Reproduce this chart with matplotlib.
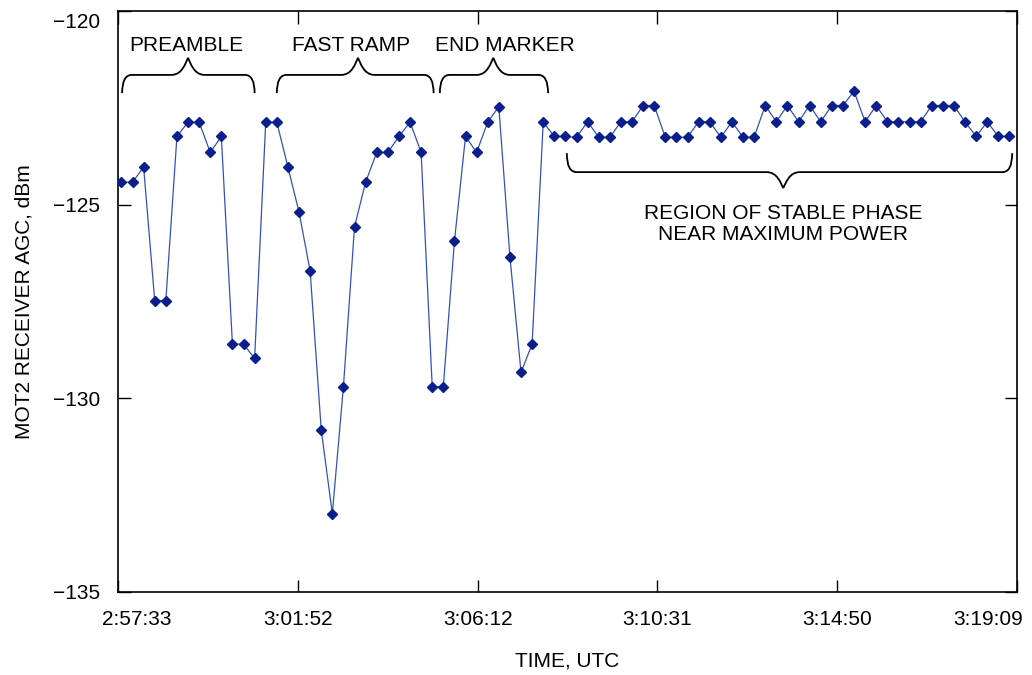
import numpy as np
import matplotlib as mpl
mpl.use("Agg")
import matplotlib.pyplot as plt
import matplotlib.transforms as mtransforms
from matplotlib.path import Path
from matplotlib.patches import PathPatch

plt.rcParams['font.family'] = ['Liberation Sans', 'DejaVu Sans']

# time axis: seconds since 00:00 UTC
t_start = 10653                        # 2:57:33
t_end = 11949                          # 3:19:09
tick_labels = ["2:57:33", "3:01:52", "3:06:12", "3:10:31", "3:14:50", "3:19:09"]
first_sample = 10658                   # 2:57:38
sample_step = 16                       # s between AGC samples

agc = [-124.42, -124.42, -124.03, -127.48, -127.48, -123.24, -122.87, -122.87, -123.65, -123.24,
       -128.60, -128.60, -128.97, -122.87, -122.87, -124.03, -125.19, -126.71, -130.81, -132.98,
       -129.70, -125.57, -124.42, -123.65, -123.65, -123.24, -122.87, -123.65, -129.70, -129.70,
       -125.95, -123.24, -123.65, -122.87, -122.47, -126.34, -129.33, -128.60, -122.87, -123.24,
       -123.24, -123.26, -122.86, -123.26, -123.26, -122.86, -122.86, -122.44, -122.44, -123.26,
       -123.26, -123.26, -122.86, -122.86, -123.26, -122.86, -123.26, -123.26, -122.44, -122.86,
       -122.44, -122.86, -122.44, -122.86, -122.44, -122.44, -122.07, -122.86, -122.44, -122.86,
       -122.86, -122.86, -122.86, -122.44, -122.44, -122.44, -122.86, -123.24, -122.86, -123.24,
       -123.24]
times = first_sample + sample_step * np.arange(len(agc))


def brace(ax, x0, x1, xm, y_end, y_bar, y_tip, r=14, w=24):
    """curly brace: ends at y_end, bar at y_bar, point at y_tip (data coords)"""
    verts = [(x0, y_end), (x0, y_bar), (x0 + r, y_bar),
             (xm - w, y_bar),
             (xm - w * 0.35, y_bar), (xm - w * 0.15, y_tip + (y_bar - y_tip) * 0.3), (xm, y_tip),
             (xm + w * 0.15, y_tip + (y_bar - y_tip) * 0.3), (xm + w * 0.35, y_bar), (xm + w, y_bar),
             (x1 - r, y_bar),
             (x1, y_bar), (x1, y_end)]
    codes = [Path.MOVETO, Path.CURVE3, Path.CURVE3,
             Path.LINETO,
             Path.CURVE4, Path.CURVE4, Path.CURVE4,
             Path.CURVE4, Path.CURVE4, Path.CURVE4,
             Path.LINETO,
             Path.CURVE3, Path.CURVE3]
    ax.add_patch(PathPatch(Path(verts, codes), fill=False, lw=1.3, color='black',
                           capstyle='butt', clip_on=False))


fig = plt.figure(figsize=(10.32, 6.75), dpi=100)
ax = fig.add_axes([0.1143, 0.1230, 0.8712, 0.8607])

ax.plot(times, agc, color='#3352b8', lw=0.9, zorder=2)
ax.plot(times, agc, linestyle='none', marker='D', ms=5, color='#0b1f8c', zorder=3)

ax.set_xlim(t_start, t_end)
ax.set_ylim(-135, -120)
ax.set_xticks(np.linspace(t_start, t_end, len(tick_labels)))
ax.set_xticklabels(tick_labels)
ax.set_yticks([-135, -130, -125, -120])

for s in ax.spines.values():
    s.set_linewidth(1.2)
ax.tick_params(direction='in', length=9, width=1.0, top=True, right=True, labelsize=15)
ax.tick_params(axis='x', pad=13)
ax.tick_params(axis='y', pad=13)

ax.set_xlabel("TIME, UTC", fontsize=15, labelpad=16)
ax.set_ylabel("MOT2 RECEIVER AGC, dBm", fontsize=15, labelpad=14)

# nudge end tick labels inward like the original
xt = ax.get_xticklabels()
xt[0].set_transform(xt[0].get_transform() + mtransforms.ScaledTranslation(19 / 100, 0, fig.dpi_scale_trans))
xt[-1].set_transform(xt[-1].get_transform() + mtransforms.ScaledTranslation(-29 / 100, 0, fig.dpi_scale_trans))
yt = ax.get_yticklabels()
yt[-1].set_transform(yt[-1].get_transform() + mtransforms.ScaledTranslation(0, -9 / 100, fig.dpi_scale_trans))

# segment annotations
ax.text(10751, -120.88, "PREAMBLE", fontsize=15, ha='center', va='center')
ax.text(10989, -120.88, "FAST RAMP", fontsize=15, ha='center', va='center')
ax.text(11211, -120.88, "END MARKER", fontsize=15, ha='center', va='center')
brace(ax, 10659, 10850, 10754, -122.12, -121.65, -121.21)
brace(ax, 10882, 11108, 10999, -122.12, -121.65, -121.21)
brace(ax, 11117, 11273, 11194, -122.12, -121.65, -121.21)
brace(ax, 11300, 11942, 11612, -123.67, -124.16, -124.57)
ax.text(11612, -125.24, "REGION OF STABLE PHASE", fontsize=15, ha='center', va='center')
ax.text(11612, -125.78, "NEAR MAXIMUM POWER", fontsize=15, ha='center', va='center')

plt.savefig("out.png", dpi=100)
